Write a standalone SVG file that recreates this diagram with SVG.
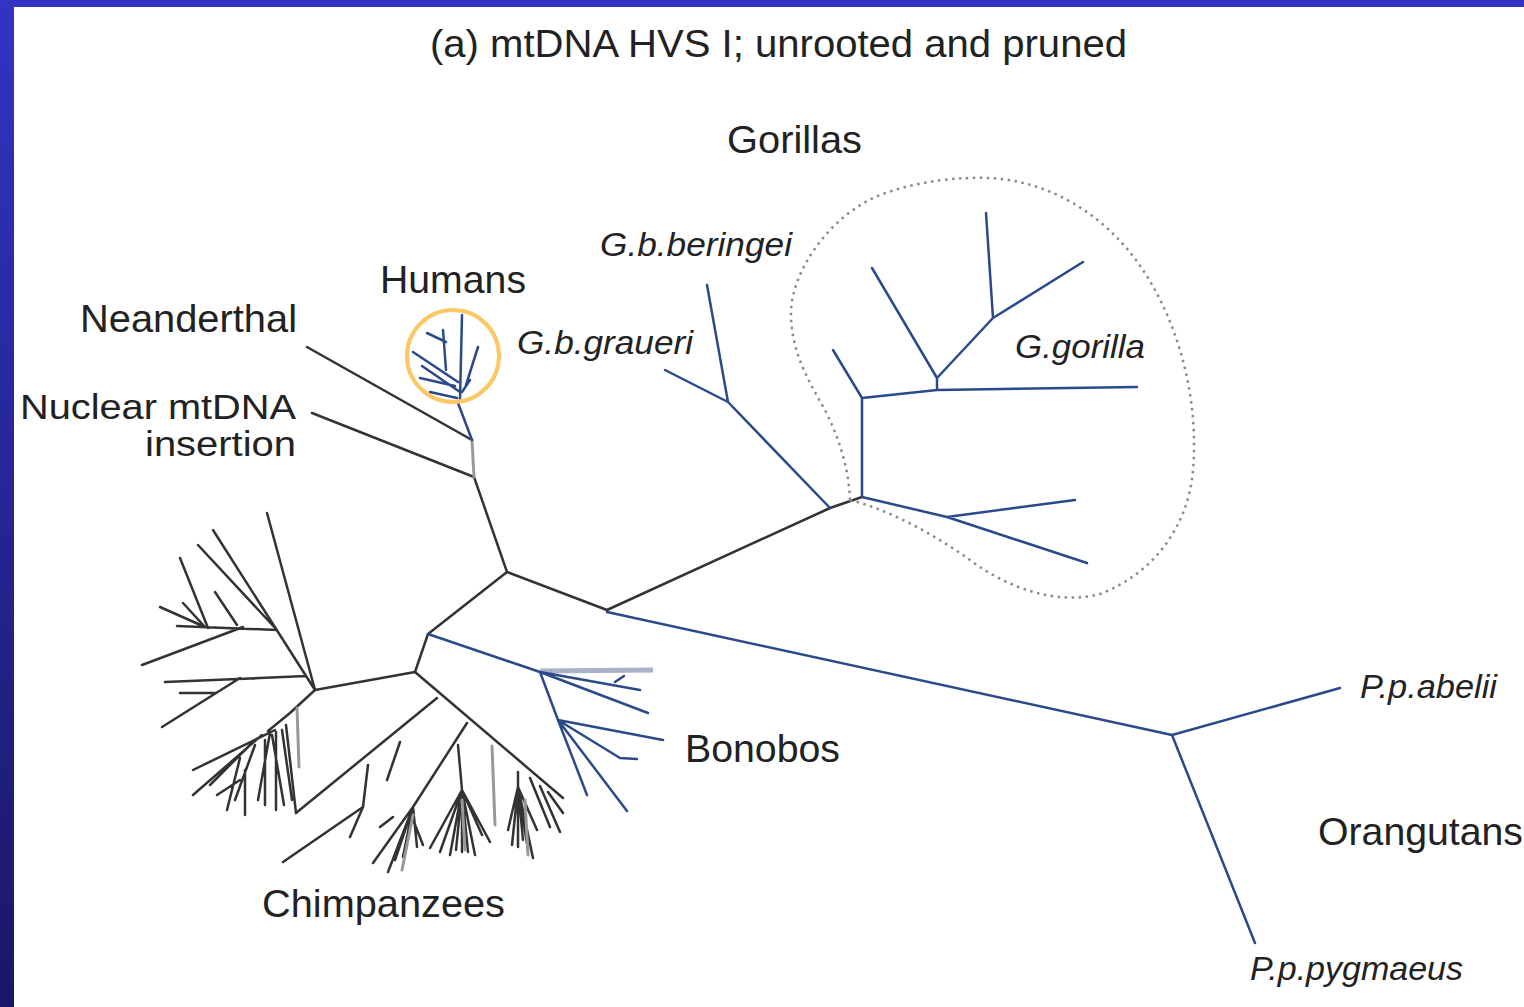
<svg xmlns="http://www.w3.org/2000/svg" width="1524" height="1007" viewBox="0 0 1524 1007">
<defs>
<linearGradient id="frame" x1="0" y1="0" x2="0" y2="1">
<stop offset="0" stop-color="#3333c4"/>
<stop offset="1" stop-color="#181866"/>
</linearGradient>
</defs>
<style>
.k{fill:none;stroke:#333;stroke-width:2.5;stroke-linecap:round;stroke-linejoin:round}
.gy{fill:none;stroke:#999;stroke-width:3;stroke-linecap:round}
.b{fill:none;stroke:#2b4a8a;stroke-width:2.5;stroke-linecap:round;stroke-linejoin:round}
.lb{fill:none;stroke:#aab1c9;stroke-width:5}
.dot{fill:none;stroke:#8a8a8a;stroke-width:2.5;stroke-dasharray:2.5 4.5}
.ring{fill:none;stroke:#fcc865;stroke-width:4}
.t{font-family:"Liberation Sans",Arial,Helvetica,sans-serif;font-size:39px;fill:#222}
.s{font-size:35px}
.i{font-style:italic;font-size:34px}
</style>
<rect x="0" y="0" width="1524" height="1007" fill="url(#frame)"/>
<rect x="14" y="7" width="1510" height="1000" fill="#ffffff"/>

<g id="connectors">
<!-- main trunk -->
<path class="k" d="M507,572 L474,477 M307,347 L472,440 M312,413 L474,477 M507,572 L607,610 L830,508 L862,497 M507,572 L428,634 L415,672"/>
<path class="gy" d="M474,477 L472,440"/>
<!-- humans -->
<path class="b" d="M472,440 L458,403 M462,315 L460,400 M478,347 L466,385 M443,330 L446,370 M427,333 L446,342 M413,352 L458,382 M422,366 L460,392 M420,378 L455,386 M430,392 L457,398 M470,380 L462,392"/>
<!-- orangutans -->
<path class="b" d="M607,612 L1172,735 L1340,688 M1172,735 L1255,943"/>
<!-- gorillas -->
<path class="b" d="M830,508 L728,402 L707,285 M728,402 L665,370 M862,497 L862,398 L833,350 M862,398 L937,390 L1137,387 M937,390 L937,378 L872,268 M937,378 L993,318 L986,213 M993,318 L1083,262 M862,497 L947,517 L1087,563 M947,517 L1075,500"/>
<!-- bonobos -->
<path class="lb" d="M540,671 L653,670"/>
<path class="b" d="M428,634 L540,672 L640,690 M615,682 L624,676 M540,672 L648,713 M540,672 L558,720 L663,740 M558,720 L620,758 L637,759 M558,720 L627,811 M558,720 L587,795"/>
<!-- chimpanzees upper-left -->
<path class="k" d="M415,672 L315,690 L267,513 M315,690 L213,530 M277,630 L198,545 M277,630 L177,626 M243,627 L142,665 M237,625 L215,592 M208,628 L180,558 M205,627 L160,607 M205,627 L183,603 M306,676 L165,682 M240,678 L162,727 M180,693 L215,693"/>
<!-- chimpanzees lower-left -->
<path class="k" d="M315,690 L290,713 L268,731 M275,730 L193,770 M262,735 L193,795 M240,758 L227,810 M217,795 L240,780 M245,770 L245,815 M270,733 L258,800 M276,732 L276,810 M282,730 L292,800 M286,725 L296,813 M255,745 L235,800 M265,740 L265,805 M250,745 L210,785 M272,735 L284,805"/>
<path class="gy" d="M297,708 L299,767"/>
<!-- chimpanzees lower-right -->
<path class="k" d="M415,672 L563,798 M437,698 L296,813 M400,742 L387,780 M368,765 L363,807 L350,837 M363,807 L283,862 M467,723 L413,807 L373,863 M413,807 L388,872 M413,807 L395,860 M413,807 L403,857 M413,807 L417,847 M410,812 L423,845 M380,827 L393,817 M458,745 L462,790 L430,848 M462,790 L440,852 M462,790 L450,855 M462,790 L462,852 M462,790 L475,855 M462,790 L490,842 M462,790 L482,835 M462,790 L456,850 M462,790 L468,852 M518,772 L518,787 L508,830 M518,787 L518,847 M518,787 L533,858 M518,787 L523,840 M518,787 L537,830 M530,778 L550,827 M540,786 L560,832 M548,792 L563,813 M518,787 L512,845 M518,787 L528,850"/>
<path class="gy" d="M492,746 L495,825 M413,815 L402,870 M462,800 L465,850 M525,800 L528,855"/>
</g>

<path class="dot" d="M850,500 C849,470 840,440 825,410 C808,380 790,350 791,310 C793,270 830,215 880,195 C920,180 960,177 990,178 C1060,182 1120,225 1155,290 C1185,345 1198,410 1193,470 C1188,530 1150,575 1100,594 C1060,605 1010,590 970,560 C935,535 890,510 850,500 Z"/>
<circle class="ring" cx="453" cy="356" r="46"/>

<g id="title"><text class="t" x="430" y="57" textLength="697" lengthAdjust="spacingAndGlyphs">(a) mtDNA HVS I; unrooted and pruned</text></g>
<g id="gorillas"><text class="t" x="727" y="153" textLength="135" lengthAdjust="spacingAndGlyphs">Gorillas</text></g>
<g id="humans"><text class="t" x="380" y="293" textLength="146" lengthAdjust="spacingAndGlyphs">Humans</text></g>
<g id="neanderthal"><text class="t" x="80" y="332" textLength="217" lengthAdjust="spacingAndGlyphs">Neanderthal</text></g>
<g id="nuclear"><text class="t s" x="20" y="419" textLength="276" lengthAdjust="spacingAndGlyphs">Nuclear mtDNA</text><text class="t s" x="145" y="456" textLength="151" lengthAdjust="spacingAndGlyphs">insertion</text></g>
<g id="gbberingei"><text class="t i" x="600" y="256" textLength="192" lengthAdjust="spacingAndGlyphs">G.b.beringei</text></g>
<g id="gbgraueri"><text class="t i" x="517" y="354" textLength="176" lengthAdjust="spacingAndGlyphs">G.b.graueri</text></g>
<g id="ggorilla"><text class="t i" x="1015" y="358" textLength="130" lengthAdjust="spacingAndGlyphs">G.gorilla</text></g>
<g id="ppabelii"><text class="t i" x="1360" y="698" textLength="137" lengthAdjust="spacingAndGlyphs">P.p.abelii</text></g>
<g id="orangutans"><text class="t" x="1318" y="845" textLength="205" lengthAdjust="spacingAndGlyphs">Orangutans</text></g>
<g id="pppygmaeus"><text class="t i" x="1250" y="980" textLength="213" lengthAdjust="spacingAndGlyphs">P.p.pygmaeus</text></g>
<g id="bonobos"><text class="t" x="685" y="762" textLength="155" lengthAdjust="spacingAndGlyphs">Bonobos</text></g>
<g id="chimpanzees"><text class="t" x="262" y="917" textLength="243" lengthAdjust="spacingAndGlyphs">Chimpanzees</text></g>
</svg>
